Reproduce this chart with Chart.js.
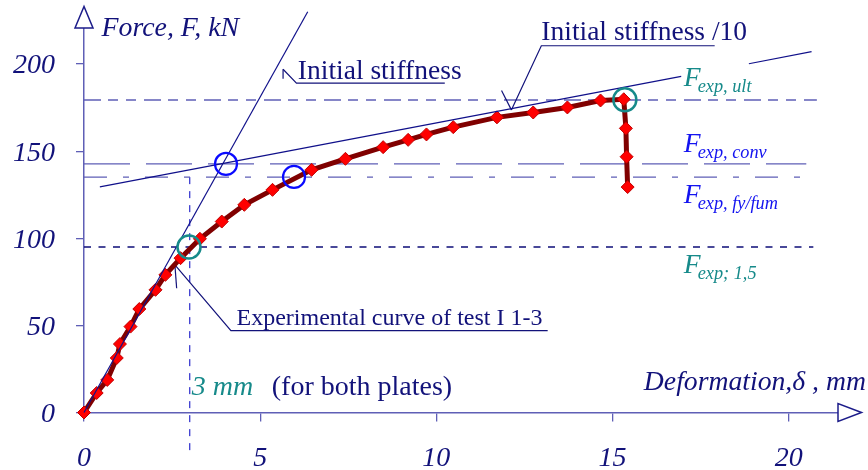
<!DOCTYPE html>
<html><head><meta charset="utf-8">
<script src="https://cdn.jsdelivr.net/npm/chart.js@4/dist/chart.umd.min.js"></script>
<style>html,body{margin:0;padding:0;background:#fff}canvas{display:block}</style>
</head><body>
<canvas id="c" width="868" height="470"></canvas>
<script>
// ---- data ----
const deformation = [0,0.36,0.66,0.93,1.02,1.32,1.57,2.03,2.31,2.74,3.29,3.91,4.55,5.35,6.46,7.42,8.49,9.20,9.72,10.48,11.72,12.75,13.72,14.66,15.32,15.38,15.40,15.43];
const force       = [0,11.2,18.7,31.3,39.3,49.3,59.4,70.4,79.0,88.6,99.7,109.6,119.2,127.8,139.3,145.6,152.3,156.5,159.6,163.8,169.4,172.2,175.1,179.1,179.8,163.1,146.8,129.4];
const xTickValues = [0,5,10,15,20];
const yTickValues = [0,50,100,150,200];
const fExpUlt = 179.4, fExpConv = 142.7, fExpFy = 135.1, fExp15 = 95.0;
const delta3mm = 3;
const initStiffLine = [[0,0],[6.35,230]];
const initStiff10Seg1 = [[0.45,129.5],[16.95,192.9]];
const initStiff10Seg2 = [[18.87,200.2],[20.65,207.1]];
const blueCircles = [[4.03,142.7],[5.96,135.2]];
const tealCircles = [[2.98,95.0],[15.35,179.5]];

// ---- styling ----
const NAVY = '#12127a', AXIS = '#5f5fb6', ARROW = '#1c1c8a', TEAL = '#168a8a', BLUE = '#1414f0', DARKRED = '#800000';
const SERIF = '"Liberation Serif","Times New Roman",serif';

const pts = a => a.map(p => ({x:p[0], y:p[1]}));
const hline = (y, x1) => [{x:0,y:y},{x:x1,y:y}];

const texts = [
  {t:'Force, F, kN', x:0.50, y:216.2, f:'italic 27.8px '+SERIF, c:NAVY},
  {t:'Initial stiffness', x:6.07, y:191.4, f:'27.5px '+SERIF, c:NAVY},
  {t:'Initial stiffness /10', x:12.98, y:213.6, f:'27.5px '+SERIF, c:NAVY},
  {t:'Experimental curve of test I 1-3', x:4.33, y:50.3, f:'24px '+SERIF, c:NAVY},
  {t:'3 mm', x:3.06, y:10.05, f:'italic 28px '+SERIF, c:TEAL},
  {t:'(for both plates)', x:5.33, y:10.05, f:'28px '+SERIF, c:NAVY},
  {t:'Deformation,\u03B4 , mm', x:15.89, y:12.9, f:'italic 27.7px '+SERIF, c:NAVY}
];
const fLabels = [
  {sub:'exp, ult', x:17.02, y:187.5, c:TEAL},
  {sub:'exp, conv', x:17.02, y:149.5, c:BLUE},
  {sub:'exp, fy/fum', x:17.02, y:120.2, c:BLUE},
  {sub:'exp; 1,5', x:17.02, y:80.0, c:TEAL}
];

const decor = {
  id:'decor',
  afterDraw(chart){
    const ctx = chart.ctx, xs = chart.scales.x, ys = chart.scales.y, a = chart.chartArea;
    ctx.save();
    // arrows
    ctx.fillStyle = '#fff'; ctx.strokeStyle = ARROW; ctx.lineWidth = 1.5;
    ctx.beginPath(); ctx.moveTo(a.left, a.top - 21.5); ctx.lineTo(a.left - 9, a.top); ctx.lineTo(a.left + 9, a.top); ctx.closePath(); ctx.fill(); ctx.stroke();
    ctx.beginPath(); ctx.moveTo(a.right + 23.5, a.bottom); ctx.lineTo(a.right, a.bottom - 9); ctx.lineTo(a.right, a.bottom + 9); ctx.closePath(); ctx.fill(); ctx.stroke();
    // texts
    ctx.textBaseline = 'alphabetic'; ctx.textAlign = 'left';
    texts.forEach(o => { ctx.font = o.f; ctx.fillStyle = o.c; ctx.fillText(o.t, xs.getPixelForValue(o.x), ys.getPixelForValue(o.y)); });
    fLabels.forEach(o => {
      const px = xs.getPixelForValue(o.x), py = ys.getPixelForValue(o.y);
      ctx.fillStyle = o.c;
      ctx.font = 'italic 27.5px '+SERIF; ctx.fillText('F', px, py);
      ctx.font = 'italic 18.3px '+SERIF; ctx.fillText(o.sub, px + 14, py + 6);
    });
    ctx.restore();
  }
};

const thin = (data, color, w, dash, order) => ({type:'line', data, borderColor:color, borderWidth:w, borderDash:dash||[], pointRadius:0, fill:false, clip:false, order, tension:0, spanGaps:false});

new Chart(document.getElementById('c'), {
  type:'scatter',
  data:{datasets:[
    {type:'scatter', data:pts(tealCircles), pointStyle:'circle', pointRadius:11.5, borderColor:TEAL, borderWidth:2.5, backgroundColor:'rgba(0,0,0,0)', order:0, clip:false},
    {type:'scatter', data:pts(blueCircles), pointStyle:'circle', pointRadius:11, borderColor:'#0a0aff', borderWidth:2.2, backgroundColor:'rgba(0,0,0,0)', order:0, clip:false},
    thin(pts(initStiffLine), '#10108a', 1.2, [], 1),
    thin(pts(initStiff10Seg1), '#10108a', 1.2, [], 1),
    thin(pts(initStiff10Seg2), '#10108a', 1.2, [], 1),
    {type:'line', data:deformation.map((d,i)=>({x:d, y:force[i]})), borderColor:DARKRED, borderWidth:5, pointStyle:'rectRot', pointRadius:6.5, pointBackgroundColor:'#ff0000', pointBorderColor:'#c00000', pointBorderWidth:1, tension:0, fill:false, order:2, clip:false},
    // leader lines
    thin(pts([[10.24,189.1],[6.03,189.1],[5.65,197.0]]), NAVY, 1.2, [], 3),
    thin(pts([[5.65,197.0],[5.65,191.6]]), NAVY, 1.2, [], 3),
    thin(pts([[17.9,210.5],[12.98,210.5],[12.13,173.7]]), NAVY, 1.2, [], 3),
    thin(pts([[11.85,184.8],[12.13,173.7]]), NAVY, 1.2, [], 3),
    thin(pts([[13.16,47.0],[4.17,47.0],[2.58,84.7]]), NAVY, 1.2, [], 3),
    thin(pts([[2.58,84.7],[2.63,71.3]]), NAVY, 1.2, [], 3),
    // reference levels
    thin(hline(fExpUlt, 20.8), AXIS, 1.4, [17,7,10,8,10,8], 4),
    thin(hline(fExpConv, 20.5), AXIS, 1.4, [46,16], 4),
    thin(hline(fExpFy, 20.45), AXIS, 1.4, [23,16,6,16], 4),
    thin(hline(fExp15, 20.7), '#0e0e78', 1.3, [7,7.5], 4),
    thin([{x:delta3mm,y:fExpFy},{x:delta3mm,y:-24}], '#3c3cd0', 1.3, [7,7], 4)
  ]},
  options:{
    responsive:false, animation:false, devicePixelRatio:1,
    layout:{padding:{top:28, right:30, left:0, bottom:0}},
    plugins:{legend:{display:false}, tooltip:{enabled:false}},
    scales:{
      x:{type:'linear', min:0, max:21.4,
        afterBuildTicks: s => { s.ticks = xTickValues.map(v=>({value:v})); },
        afterFit: s => { s.height = 57.5; s.paddingLeft = 0; s.paddingRight = 0; },
        grid:{drawOnChartArea:false, drawTicks:true, tickLength:9, color:AXIS, lineWidth:1.3},
        border:{display:true, color:AXIS, width:1.5},
        ticks:{padding:20, color:NAVY, font:{family:SERIF, size:28, style:'italic'}, maxRotation:0}
      },
      y:{type:'linear', min:0, max:220.7,
        afterBuildTicks: s => { s.ticks = yTickValues.map(v=>({value:v})); },
        afterFit: s => { s.width = 84; s.paddingTop = 0; s.paddingBottom = 0; },
        grid:{drawOnChartArea:false, drawTicks:true, tickLength:8, color:AXIS, lineWidth:1.3},
        border:{display:true, color:AXIS, width:1.5},
        ticks:{padding:21, labelOffset:2, color:NAVY, font:{family:SERIF, size:28, style:'italic'}}
      }
    }
  },
  plugins:[decor]
});
</script>
</body></html>
